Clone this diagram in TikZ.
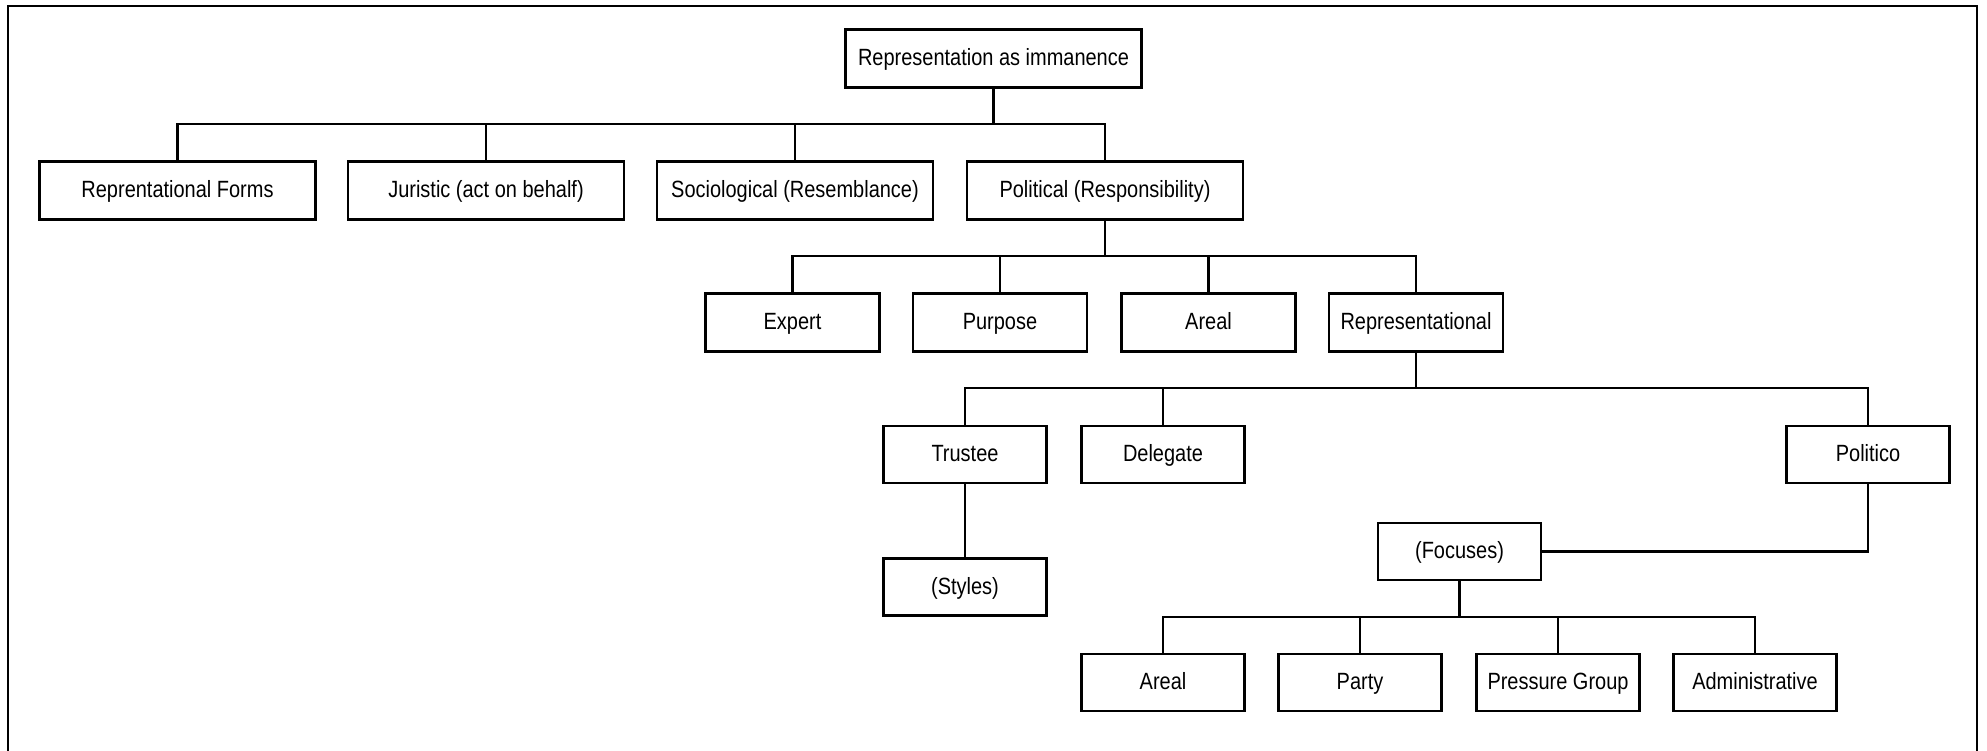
\documentclass[tikz,border=0pt]{standalone}
\usepackage{fontspec}
\setmainfont{Liberation Sans}[FakeStretch=0.85]
\begin{document}
\begin{tikzpicture}[x=1pt,y=-1pt,
  box/.style={draw=black,line width=2.8pt,fill=white,inner sep=0pt,
    text height=17pt,text depth=3pt,
    font=\fontsize{23.5}{28}\selectfont,anchor=center},
  wide/.style={box,minimum width=276pt,minimum height=58pt},
  midbox/.style={box,minimum width=174pt,minimum height=58pt},
  smallbox/.style={box,minimum width=163pt,minimum height=57pt},
  conn/.style={draw=black,line width=2.4pt},
  frame/.style={draw=black,line width=2.2pt}]
\useasboundingbox (0,0) rectangle (1987,750);
% outer frame (open at the foot of the page)
\draw[frame] (8,752) -- (8,6) -- (1977,6) -- (1977,752);

% root
\node[box,minimum width=296pt,minimum height=58pt] (root) at (993.5,58.5) {Representation as immanence};

% first level
\node[wide] (forms)     at (177.5,190.5) {Reprentational Forms};
\node[wide] (juristic)  at (486,190.5)   {Juristic (act on behalf)};
\node[wide] (socio)     at (795,190.5)   {Sociological (Resemblance)};
\node[wide] (political) at (1105,190.5)  {Political (Responsibility)};

% second level
\node[midbox] (expert)  at (792.5,322.5) {Expert};
\node[midbox] (purpose) at (1000,322.5)  {Purpose};
\node[midbox] (areal)   at (1208.5,322.5){Areal};
\node[midbox] (repr)    at (1416,322.5)  {Representational};

% third level
\node[smallbox] (trustee)  at (965,454.5)  {Trustee};
\node[smallbox] (delegate) at (1163,454.5) {Delegate};
\node[smallbox] (politico) at (1868,454.5) {Politico};

\node[smallbox] (styles)  at (965,587)     {(Styles)};
\node[smallbox] (focuses) at (1459.5,551.5){(Focuses)};

% focuses
\node[smallbox] (areal2)   at (1163,682.5) {Areal};
\node[smallbox] (party)    at (1360,682.5) {Party};
\node[smallbox] (pressure) at (1558,682.5) {Pressure Group};
\node[smallbox] (admin)    at (1755,682.5) {Administrative};

% bus bars
\coordinate (b1) at (993.5,124);
\coordinate (b2) at (1105,256);
\coordinate (b3) at (1416,388);
\coordinate (b5) at (1459.5,617);

\draw[conn] (root.south) -- (b1);
\foreach \c in {forms,juristic,socio,political}
  \draw[conn] (\c.north) |- (b1);

\draw[conn] (political.south) -- (b2);
\foreach \c in {expert,purpose,areal,repr}
  \draw[conn] (\c.north) |- (b2);

\draw[conn] (repr.south) -- (b3);
\foreach \c in {trustee,delegate,politico}
  \draw[conn] (\c.north) |- (b3);

\draw[conn] (trustee.south) -- (styles.north);
\draw[conn] (politico.south) |- (focuses.east);

\draw[conn] (focuses.south) -- (b5);
\foreach \c in {areal2,party,pressure,admin}
  \draw[conn] (\c.north) |- (b5);
\end{tikzpicture}
\end{document}
